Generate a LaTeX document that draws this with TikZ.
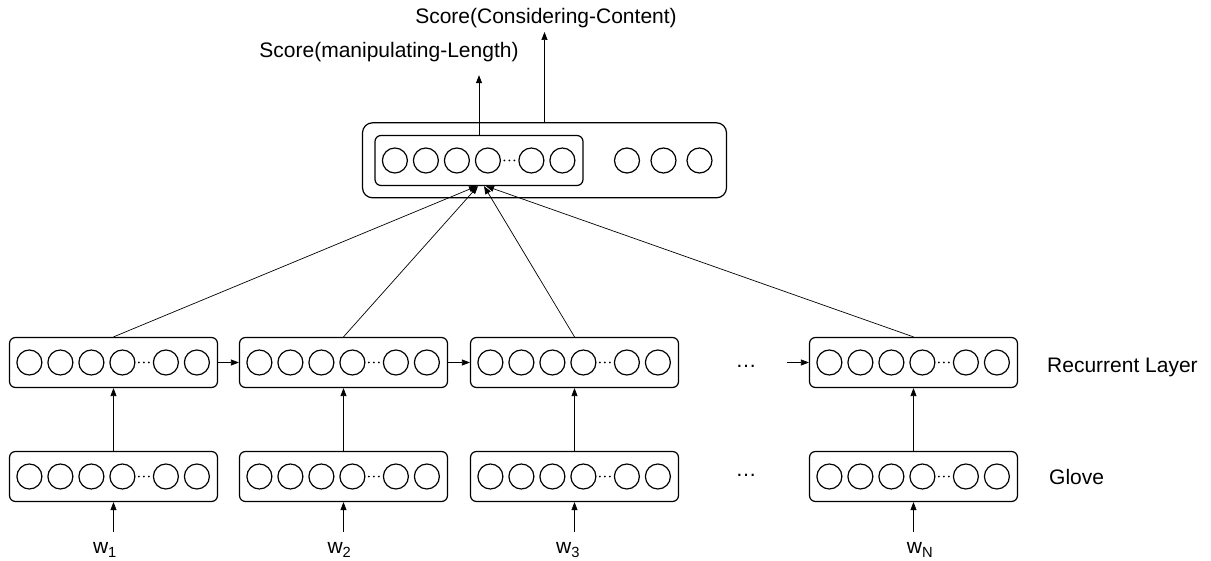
\documentclass[tikz,border=0pt]{standalone}
\usepackage{fontspec}
\setmainfont{Liberation Sans}
\usetikzlibrary{arrows.meta}

% six cells and the dots of one vector box
\newcommand{\cells}[1]{%
  \foreach \dx in {20.5,51.5,82.5,113.5,157,188}
    \draw[cell] ([xshift=\dx pt]#1.west) circle [radius=12.5pt];
  \foreach \dx in {130,135,140}
    \fill ([xshift=\dx pt]#1.west) circle [radius=1pt];
}

\begin{document}
\begin{tikzpicture}[x=1pt,y=-1pt,
  vec/.style={draw,rounded corners=6pt,line width=1.2pt,minimum width=208pt,minimum height=50pt,inner sep=0pt},
  cell/.style={line width=1.2pt},
  con/.style={-{Triangle[length=8pt,width=6pt]},line width=0.7pt},
  lab/.style={font=\fontsize{21}{25}\selectfont,inner sep=0pt}]
\useasboundingbox (0,0) rectangle (1211,561);

\foreach \i/\x in {1/113.5,2/343.5,3/574.5,4/913.5}{
  \node[vec] (r\i) at (\x,362.5) {};
  \node[vec] (g\i) at (\x,476.5) {};
  \cells{r\i}
  \cells{g\i}
  \draw[con] (g\i) -- (r\i);
}

\node[vec,minimum width=364pt,minimum height=75pt,rounded corners=10pt] (out) at (544.5,160.3) {};
\node[vec] (in) at (479,160.5) {};
\cells{in}
\foreach \x in {627,663.5,699.5} \draw[cell] (\x,160.5) circle [radius=12.5pt];

\draw[con] (r1.north) -- ([xshift=-2pt]in.south);
\draw[con] (r2.north) -- ([xshift=-1pt]in.south);
\draw[con] (r3.north) -- ([xshift=5pt]in.south);
\draw[con] (r4.north) -- ([xshift=7pt]in.south);

\draw[con] (r1) -- (r2);
\draw[con] (r2) -- (r3);
\coordinate (r3to4) at (787,362.5);
\draw[con] (r3to4) -- (r4);

\node[lab] (rdots) at (746,366) {\dots};
\node[lab] (gdots) at (746,475.5) {\dots};
\node[lab,anchor=west] (reclab) at (1047,367) {Recurrent Layer};
\node[lab,anchor=west] (glovelab) at (1049,476.5) {Glove};

\node[lab,inner ysep=11pt] (w1) at (105,550) {w\textsubscript{1}};
\node[lab,inner ysep=11pt] (w2) at (339.5,550) {w\textsubscript{2}};
\node[lab,inner ysep=11pt] (w3) at (568,550) {w\textsubscript{3}};
\node[lab,inner ysep=11pt] (wN) at (920,550) {w\textsubscript{N}};
\foreach \i/\w in {1/w1,2/w2,3/w3,4/wN}
  \draw[con] (g\i.south |- \w.north) -- (g\i);

\node[lab,inner ysep=12.7pt] (lenlab) at (389,52.5) {Score(manipulating-Length)};
\node[lab,inner ysep=4pt] (conlab) at (546,18) {Score(Considering-Content)};
\draw[con] (in.north) -- (in.north |- lenlab.south);
\draw[con] (out.north) -- (out.north |- conlab.south);
\end{tikzpicture}
\end{document}
